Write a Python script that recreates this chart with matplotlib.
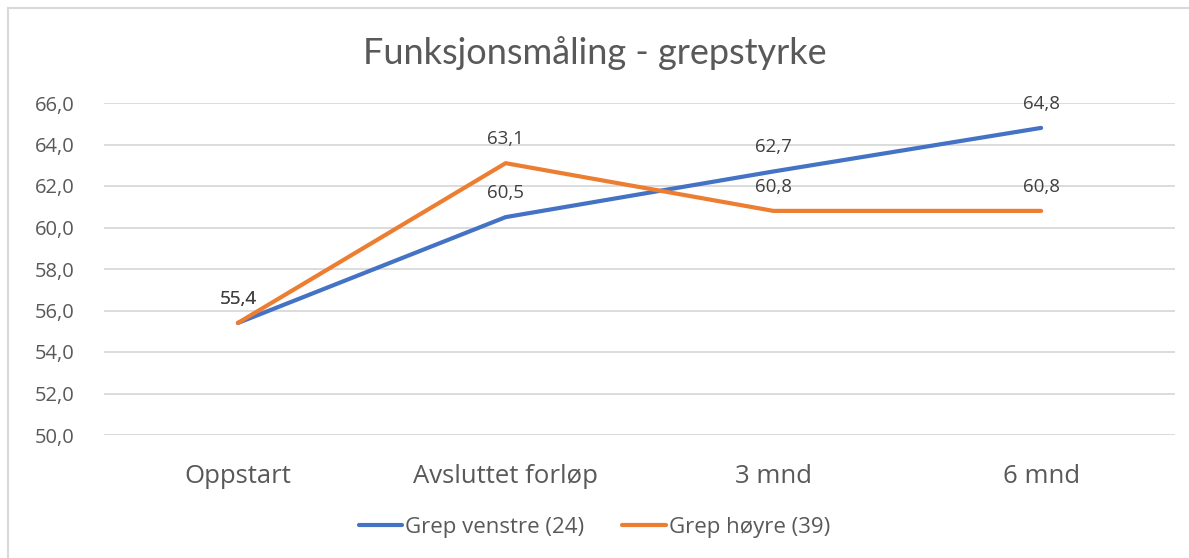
import matplotlib.pyplot as plt
from matplotlib.lines import Line2D

categories = ["Oppstart", "Avsluttet forløp", "3 mnd", "6 mnd"]
venstre = [55.4, 60.5, 62.7, 64.8]
hoyre = [55.4, 63.1, 60.8, 60.8]
series_names = ["Grep venstre (24)", "Grep høyre (39)"]
yticks = [50, 52, 54, 56, 58, 60, 62, 64, 66]

blue = "#4472C4"
orange = "#ED7D31"
grey = "#595959"

plt.rcParams['font.family'] = ['Open Sans', 'DejaVu Sans']

fig = plt.figure(figsize=(11.89, 5.58), dpi=100)
ax = fig.add_axes([104 / 1189, 1 - 435 / 558, (1175 - 104) / 1189, (435 - 103) / 558])

x = list(range(len(categories)))
ax.plot(x, venstre, color=blue, lw=3, solid_capstyle='round', zorder=3)
ax.plot(x, hoyre, color=orange, lw=3, solid_capstyle='round', zorder=4)

def fmt(v):
    return f"{v:.1f}".replace(".", ",")

for xi, v in zip(x, venstre):
    ax.annotate(fmt(v), (xi, v), xytext=(0, 11), textcoords='offset points',
                ha='center', va='bottom', fontsize=13.5, color="#404040", zorder=5)
for xi, v in zip(x, hoyre):
    ax.annotate(fmt(v), (xi, v), xytext=(0, 11), textcoords='offset points',
                ha='center', va='bottom', fontsize=13.5, color="#404040", zorder=5)

ax.set_xlim(-0.5, 3.5)
ax.set_ylim(50, 66)
ax.set_yticks(yticks)
ax.set_yticklabels([fmt(t) for t in yticks], fontsize=14.5, color=grey)
ax.set_xticks(x)
ax.set_xticklabels(categories, fontsize=18.5, color=grey)
ax.tick_params(axis='both', length=0)
ax.tick_params(axis='y', pad=21)
ax.tick_params(axis='x', pad=21)
ax.grid(axis='y', color="#D9D9D9", lw=1.3)
ax.set_axisbelow(True)
for s in ax.spines.values():
    s.set_visible(False)

fig.text(0.5, 0.905, "Funksjonsmåling - grepstyrke", ha='center', va='center',
         fontsize=26, color=grey, family=['Lato', 'DejaVu Sans'])

handles = [Line2D([], [], color=blue, lw=3, solid_capstyle='round'),
           Line2D([], [], color=orange, lw=3, solid_capstyle='round')]
fig.legend(handles, series_names, loc='center', bbox_to_anchor=(0.5, 0.055),
           ncol=2, frameon=False, fontsize=16, handlelength=1.95,
           handletextpad=0.15, columnspacing=1.7, labelcolor=grey)

# chart border (top and left visible in screenshot)
fig.add_artist(Line2D([8 / 1189, 8 / 1189], [0, 1 - 8 / 558], color="#D9D9D9", lw=1.5))
fig.add_artist(Line2D([8 / 1189, 1], [1 - 8 / 558, 1 - 8 / 558], color="#D9D9D9", lw=1.5))

fig.savefig("out.png", dpi=100)
